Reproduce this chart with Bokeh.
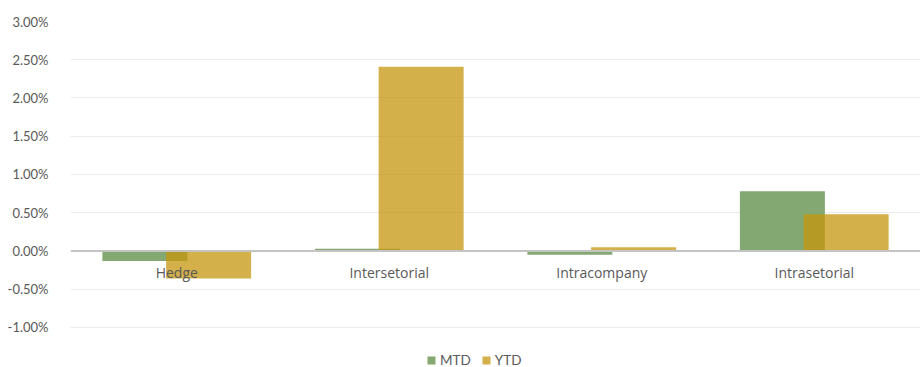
from bokeh.plotting import figure
from bokeh.models import (ColumnDataSource, FactorRange, Range1d, NumeralTickFormatter,
                          FixedTicker, Span, Legend, LegendItem)
from bokeh.transform import dodge
from bokeh.core.properties import value
from bokeh.embed import file_html
from bokeh.resources import INLINE

categories = ["Hedge", "Intersetorial", "Intracompany", "Intrasetorial"]
mtd = [-0.0013, 0.0003, -0.0005, 0.0078]
ytd = [-0.0036, 0.0241, 0.0005, 0.0048]
y_ticks = [-0.01, -0.005, 0.0, 0.005, 0.01, 0.015, 0.02, 0.025, 0.03]

src = ColumnDataSource(dict(cat=categories, mtd=mtd, ytd=ytd, zero=[0.0] * len(categories)))

# frame runs to the bottom edge so the legend can sit inside it
p = figure(width=920, height=367, x_range=FactorRange(*categories, range_padding=0),
           y_range=Range1d(-0.015229, 0.03), output_backend="svg", toolbar_location=None,
           min_border_left=70, min_border_right=0, min_border_top=21, min_border_bottom=0)
p.outline_line_color = None
p.background_fill_color = "white"
p.border_fill_color = "white"

p.xaxis.visible = False
p.xgrid.grid_line_color = None
p.ygrid.grid_line_color = "#ebebeb"
p.ygrid.grid_line_width = 1
p.ygrid.ticker = FixedTicker(ticks=y_ticks)

p.yaxis.ticker = FixedTicker(ticks=y_ticks)
p.yaxis.formatter = NumeralTickFormatter(format="0.00%")
p.yaxis.axis_line_color = None
p.yaxis.major_tick_line_color = None
p.yaxis.minor_tick_line_color = None
p.yaxis.major_label_text_color = "#595959"
p.yaxis.major_label_text_font = "Lato"
p.yaxis.major_label_text_font_size = "13px"
p.yaxis.major_label_standoff = 16

r1 = p.vbar(x=dodge("cat", -0.15, range=p.x_range), top="mtd", bottom=0, width=0.4,
            source=src, fill_color="#84a871", line_color=None)
r2 = p.vbar(x=dodge("cat", 0.15, range=p.x_range), top="ytd", bottom=0, width=0.4,
            source=src, fill_color="#c6960e", fill_alpha=0.75, line_color=None)

p.add_layout(Span(location=0, dimension="width", line_color="#c4c4c4", line_width=2))

p.text(x="cat", y="zero", text="cat", source=src, text_align="center", text_baseline="middle",
       y_offset=22, text_color="#595959", text_font=value("Open Sans"), text_font_size="14px")

legend = Legend(items=[LegendItem(label="MTD", renderers=[r1]),
                       LegendItem(label="YTD", renderers=[r2])],
                orientation="horizontal", location=(356, -1))
legend.border_line_color = None
legend.background_fill_alpha = 0
legend.padding = 0
legend.margin = 0
legend.spacing = 10
legend.glyph_width = 10
legend.glyph_height = 10
legend.label_standoff = 4
legend.label_text_font = "Lato"
legend.label_text_font_size = "13.5px"
legend.label_text_color = "#595959"
p.add_layout(legend, "center")

open("out.html", "w").write(file_html(p, INLINE))
